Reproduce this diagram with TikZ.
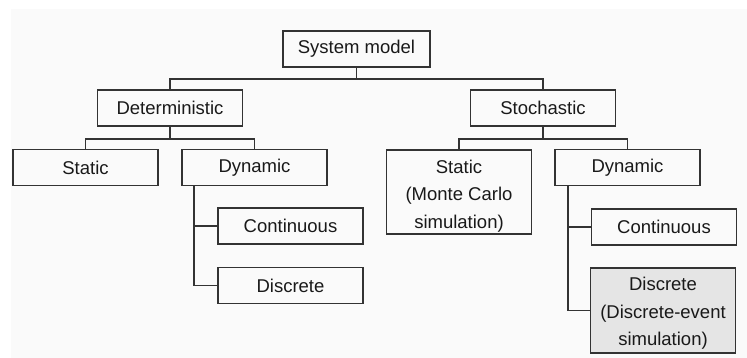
\documentclass[tikz,border=0pt]{standalone}
\usepackage{fontspec}
\setmainfont{Liberation Sans}
\usetikzlibrary{calc}
\begin{document}
\begin{tikzpicture}[x=1pt,y=-1pt,
  box/.style={draw=black!80, line width=1.8pt, text=black!90, minimum width=145pt, minimum height=36pt, inner sep=0pt, align=center, font=\fontsize{18.5}{27.5}\selectfont},
  conn/.style={draw=black!80, line width=1.8pt}]
\useasboundingbox (0,0) rectangle (747,358);
\fill[black!2] (11,9) rectangle (747,358);
\node[box, minimum width=147pt] (sys) at (356.5,49) {System model};
\node[box] (det) at (170,108) {Deterministic};
\node[box] (st) at (543,108) {Stochastic};
\node[box] (ds) at (85.5,167.5) {Static};
\node[box] (dd) at (254.5,167.5) {Dynamic};
\node[box, minimum height=84pt] (ss) at (459,192) {\rule{0pt}{21pt}Static\\(Monte Carlo\\simulation)};
\node[box] (sd) at (627.5,167.5) {Dynamic};
\node[box] (dc) at (290.5,226) {Continuous};
\node[box] (dr) at (290.5,285.5) {Discrete};
\node[box] (sc) at (664,227) {Continuous};
\node[box, minimum height=85pt, fill=black!10] (sr) at (663,310.5) {\rule{0pt}{19pt}Discrete\\(Discrete-event\\simulation)};
\coordinate (sj) at ($(sys.south)+(0,11)$);
\draw[conn] (sys.south) -- (sj);
\draw[conn] (det.north) |- (sj) -| (st.north);
\coordinate (dj) at ($(det.south)+(0,12)$);
\draw[conn] (det.south) -- (dj);
\draw[conn] (ds.north) |- (dj) -| (dd.north);
\coordinate (tj) at ($(st.south)+(0,12)$);
\draw[conn] (st.south) -- (tj);
\draw[conn] (ss.north) |- (tj) -| (sd.north);
\draw[conn] ([xshift=13pt]dd.south west) |- (dc.west);
\draw[conn] ([xshift=13pt]dd.south west) |- (dr.west);
\draw[conn] ([xshift=14pt]sd.south west) |- (sc.west);
\draw[conn] ([xshift=14pt]sd.south west) |- (sr.west);
\end{tikzpicture}
\end{document}
